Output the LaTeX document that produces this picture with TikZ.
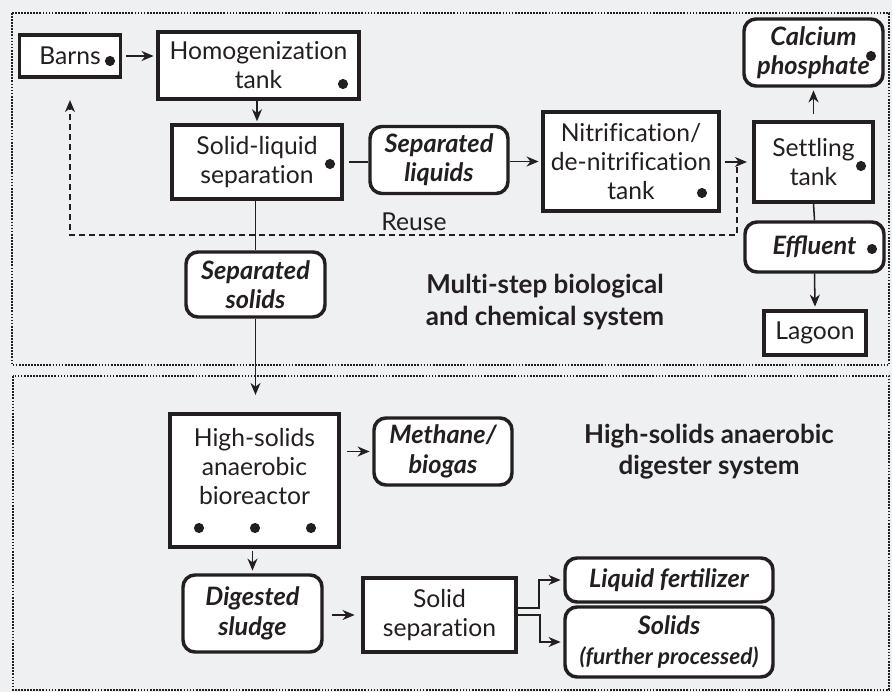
\documentclass[tikz,border=0pt]{standalone}
\usepackage{fontspec}
\setmainfont{Lato}[Ligatures=NoCommon,BoldItalicFeatures={Ligatures=Common}]
\usetikzlibrary{arrows.meta}
\definecolor{panelgray}{HTML}{EFF0F2}
\definecolor{ink}{HTML}{231F20}

\begin{document}
\begin{tikzpicture}[x=0.75pt,y=-0.75pt,color=ink,
  font=\fontsize{18.5}{21.75}\selectfont,
  box/.style={draw,fill=white,line width=2.6pt,align=center,inner sep=0pt},
  obox/.style={box,rounded corners=9pt,font=\fontsize{19}{22}\selectfont\bfseries\itshape},
  heading/.style={align=center,font=\fontsize{19.5}{23.5}\selectfont\bfseries},
  flow/.style={line width=1.15pt,-{Stealth[length=9pt,width=7.5pt,inset=2.8pt]}},
  panel/.style={densely dotted,line width=1.3pt}]
\fill[panelgray] (0,0) rectangle (892,692);
\useasboundingbox (0,0) rectangle (892,692);
\draw[panel] (12,13) rectangle (889,365);
\draw[panel] (13,376) rectangle (889,690);

% multi-step system
\node[box,minimum width=75.75pt,minimum height=31.5pt] (barns) at (70,56) {Barns};
\node[box,minimum width=150.75pt,minimum height=50.25pt] (homog) at (258.5,65.5) {Homogenization\\tank};
\node[box,minimum width=127.5pt,minimum height=55.5pt] (slsep) at (257,162) {Solid-liquid\\separation};
\node[obox,minimum width=103.5pt,minimum height=50.25pt] (sepliq) at (439,160) {Separated\\liquids};
\node[box,minimum width=132pt,minimum height=74.25pt] (nitri) at (631,161.5) {Nitrification/\\de-nitrification\\tank};
\node[box,minimum width=89.25pt,minimum height=60pt] (settle) at (813.5,162) {Settling\\tank};
\node[obox,minimum width=104.25pt,minimum height=50.25pt] (calcium) at (813.5,52.5) {Calcium\\phosphate};
\node[obox,minimum width=104.25pt,minimum height=37.5pt] (effluent) at (814.5,247) {Effluent};
\node[box,minimum width=76.5pt,minimum height=33pt] (lagoon) at (815,333) {Lagoon};
\node[obox,minimum width=104.25pt,minimum height=48.75pt] (sepsol) at (255.5,284.5) {Separated\\solids};
\node (reuse) at (414,222) {Reuse};
\node[heading] (msys) at (545,302) {Multi-step biological\\and chemical system};

\fill (110,61) circle (3.8pt);
\fill (343,84) circle (3.8pt);
\fill (330,164) circle (3.8pt);
\fill (702,193) circle (3.8pt);
\fill (861,166) circle (3.8pt);
\fill (871,56) circle (3.8pt);
\fill (872,249) circle (3.8pt);

\draw[flow] ([xshift=3pt]barns.east) -- ([xshift=-2pt]homog.west |- barns.east);
\draw[flow,shorten >=1.5pt] (slsep.north |- homog.south) -- (slsep.north);
\draw[line width=1.15pt] ([xshift=4pt]slsep.east) -- (sepliq.west |- slsep.east);
\draw[flow] (sepliq.east |- nitri.west) -- ([xshift=-2pt]nitri.west);
\draw[flow] ([xshift=3pt]nitri.east |- settle.west) -- ([xshift=-4pt]settle.west);
\draw[flow] ([yshift=5pt]settle.north) -- ([yshift=-2pt]calcium.south);
\draw[line width=1.15pt] (settle.south) -- (effluent.north);
\draw[flow] (effluent.south) -- ([yshift=2pt]lagoon.north);
\coordinate (rs) at (737,167);
\draw[flow,dash pattern=on 4.5pt off 3pt] (rs) |- (barns.south |- 0,235) -- ([yshift=-16pt]barns.south);
\draw[line width=1.15pt] (sepsol.north |- slsep.south) -- (sepsol.north);

% anaerobic digester system
\node[box,minimum width=126.75pt,minimum height=99.75pt] (bioreactor) at (254.5,480.5) {High-solids\\anaerobic\\bioreactor\\\mbox{}};
\node[obox,minimum width=103.5pt,minimum height=50.25pt] (methane) at (443,451.5) {Methane/\\biogas};
\node[obox,minimum width=104.25pt,minimum height=57.75pt] (digested) at (252.5,613.5) {Digested\\sludge};
\node[box,minimum width=114.75pt,minimum height=55.5pt] (solsep) at (439.5,615) {Solid\\separation};
\node[obox,minimum width=156pt,minimum height=33pt] (liqfert) at (669,580) {Liquid fertilizer};
\node[obox,minimum width=156pt,minimum height=52.5pt] (solids) at (669,642) {Solids\\{\fontsize{17}{19}\selectfont(further processed)}};
\node[heading] (hsys) at (709,452) {High-solids anaerobic\\digester system};

\fill (199,528) circle (3.8pt);
\fill (255,528) circle (3.8pt);
\fill (311,528) circle (3.8pt);

\draw[flow] (sepsol.south) -- ([yshift=13pt]sepsol.south |- bioreactor.north);
\draw[flow] ([xshift=5pt]bioreactor.east |- methane.west) -- ([xshift=-2pt]methane.west);
\draw[flow] ([yshift=-2pt]bioreactor.south -| digested.north) -- ([yshift=2pt]digested.north);
\draw[flow] ([xshift=6pt]digested.east |- solsep.west) -- ([xshift=-5pt]solsep.west);
\draw[flow] ([yshift=5.25pt]solsep.east) -- ++(21,0) |- ([xshift=-2pt]liqfert.west);
\draw[flow] (solsep.east) -- ++(22,0) |- ([xshift=-2pt]solids.west);
\end{tikzpicture}
\end{document}
